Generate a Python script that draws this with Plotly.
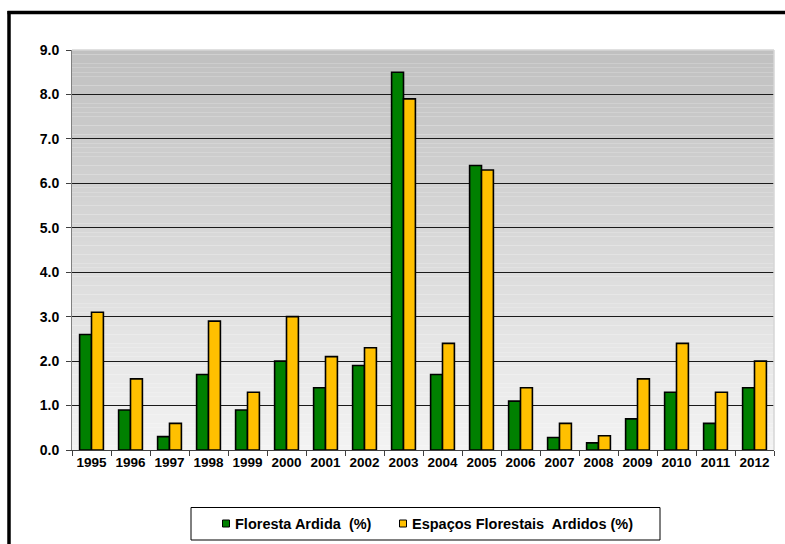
import plotly.graph_objects as go

# Burned-area shares per year
years = ["1995", "1996", "1997", "1998", "1999", "2000", "2001", "2002", "2003",
         "2004", "2005", "2006", "2007", "2008", "2009", "2010", "2011", "2012"]
floresta_ardida = [2.6, 0.9, 0.3, 1.7, 0.9, 2.0, 1.4, 1.9, 8.5,
                   1.7, 6.4, 1.1, 0.28, 0.16, 0.7, 1.3, 0.6, 1.4]
espacos_florestais = [3.1, 1.6, 0.6, 2.9, 1.3, 3.0, 2.1, 2.3, 7.9,
                      2.4, 6.3, 1.4, 0.6, 0.32, 1.6, 2.4, 1.3, 2.0]
y_ticks = [0, 1, 2, 3, 4, 5, 6, 7, 8, 9]
y_tick_labels = ["0.0", "1.0", "2.0", "3.0", "4.0", "5.0", "6.0", "7.0", "8.0", "9.0"]
series_names = ["Floresta Ardida  (%)", "Espaços Florestais  Ardidos (%)"]
series_colors = ["#008000", "#FFC000"]

W, H = 785, 544
ML, MR, MT, MB = 72, 11, 50, 94
PW, PH = W - ML - MR, H - MT - MB


def px_x(px):
    return (px - ML) / PW


def px_y(py):
    return (H - MB - py) / PH


FONT = "Liberation Sans, Arial, sans-serif"

fig = go.Figure()
for name, vals, col in zip(series_names, [floresta_ardida, espacos_florestais], series_colors):
    fig.add_trace(go.Bar(
        x=years, y=vals, name=name, showlegend=False,
        marker=dict(color=col, line=dict(color="#000000", width=1.6)),
    ))

shapes = []
# vertical gray gradient behind the bars
n_steps = 90
top_c, bot_c = 192, 243
for i in range(n_steps):
    y0 = 9 * i / n_steps
    y1 = 9 * (i + 1) / n_steps
    t = (i + 0.5) / n_steps
    c = round(bot_c + (top_c - bot_c) * t)
    shapes.append(dict(type="rect", xref="paper", yref="y", x0=0, x1=1, y0=y0, y1=y1,
                       fillcolor=f"rgb({c},{c},{c})", line=dict(width=0), layer="below"))
# light frame at top and right of plot area
shapes.append(dict(type="line", xref="paper", yref="paper", x0=0, x1=1, y0=1, y1=1,
                   line=dict(color="#d6d6d6", width=1.5)))
shapes.append(dict(type="line", xref="paper", yref="paper", x0=1, x1=1, y0=0, y1=1,
                   line=dict(color="#d6d6d6", width=1.5)))
# outer chart border (top and left)
shapes.append(dict(type="line", xref="paper", yref="paper",
                   x0=px_x(7.5), x1=px_x(800), y0=px_y(12.5), y1=px_y(12.5),
                   line=dict(color="#000000", width=3.5)))
shapes.append(dict(type="line", xref="paper", yref="paper",
                   x0=px_x(9), x1=px_x(9), y0=px_y(11), y1=px_y(560),
                   line=dict(color="#000000", width=3.5)))
# legend box
shapes.append(dict(type="rect", xref="paper", yref="paper",
                   x0=px_x(191), x1=px_x(660), y0=px_y(507.5), y1=px_y(540),
                   line=dict(color="#000000", width=1), fillcolor="#ffffff"))
annotations = []
legend_items = [(226, 233), (403, 410)]
for (sx, tx), name, col in zip(legend_items, series_names, series_colors):
    shapes.append(dict(type="rect", xref="paper", yref="paper",
                       x0=px_x(sx - 3.5), x1=px_x(sx + 3.5), y0=px_y(520), y1=px_y(527),
                       line=dict(color="#000000", width=1), fillcolor=col))
    annotations.append(dict(xref="paper", yref="paper", x=px_x(tx), y=px_y(523.5),
                            text=name, showarrow=False, xanchor="left", yanchor="middle",
                            font=dict(family=FONT, size=14.5, color="#000000", weight="bold")))

fig.update_layout(
    width=W, height=H,
    margin=dict(l=ML, r=MR, t=MT, b=MB, pad=0),
    paper_bgcolor="#ffffff", plot_bgcolor="#ffffff",
    barmode="group", bargap=0.39, bargroupgap=0.0,
    shapes=shapes, annotations=annotations,
    font=dict(family=FONT, color="#000000"),
)
fig.update_xaxes(
    type="category", showgrid=False, showline=True, linecolor="#404040", linewidth=1,
    ticks="outside", tickson="boundaries", ticklen=5, tickcolor="#404040", tickwidth=1,
    tickangle=0, automargin=False,
    tickfont=dict(family=FONT, size=13.5, color="#000000", weight="bold"),
)
fig.update_yaxes(
    range=[0, 9], tickvals=y_ticks, ticktext=y_tick_labels,
    showgrid=True, gridcolor="#1a1a1a", gridwidth=1, zeroline=False,
    showline=True, linecolor="#808080", linewidth=1,
    ticks="outside", ticklen=5, tickcolor="#404040", tickwidth=1,
    ticklabelstandoff=4, automargin=False,
    tickfont=dict(family=FONT, size=14, color="#000000", weight="bold"),
)

fig.write_html("out.html")
